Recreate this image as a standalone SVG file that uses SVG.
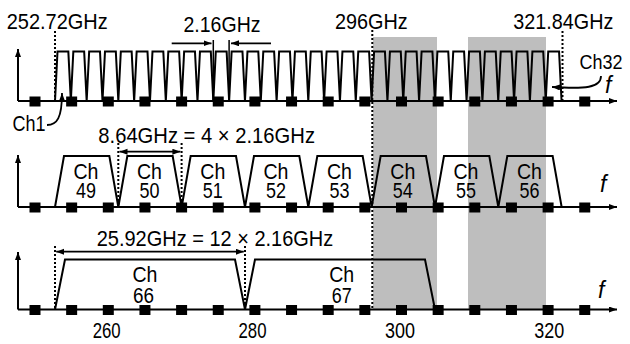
<svg xmlns="http://www.w3.org/2000/svg" xmlns:xlink="http://www.w3.org/1999/xlink" width="630" height="344" viewBox="0 0 630 344">
<style>
text{font-family:"Liberation Sans",Arial,sans-serif;font-size:22px;fill:#000}
.it{font-style:italic;font-size:23px}
.lb{font-size:21.5px}
.ln{fill:none;stroke:#000;stroke-width:2}
.ax{fill:none;stroke:#000;stroke-width:2;marker-end:url(#ah)}
.dot{fill:none;stroke:#000;stroke-width:2;stroke-dasharray:2,2}
.dim{fill:none;stroke:#000;stroke-width:1.8;marker-start:url(#ah);marker-end:url(#ah)}
.one{fill:none;stroke:#000;stroke-width:1.8;marker-end:url(#ah)}
.band{fill:#bebebe}
</style>
<defs>
<marker id="ah" markerUnits="userSpaceOnUse" markerWidth="10" markerHeight="8" refX="8" refY="3" orient="auto-start-reverse">
<path d="M0,0 L8,3 L0,6 z" fill="#000"/>
</marker>
<rect id="sq" x="-5.5" y="-4.5" width="11" height="10" fill="#000"/>
</defs>

<g id="bands">
<rect class="band" x="373" y="37" width="64" height="272"/>
<rect class="band" x="468" y="37" width="78" height="272"/>
</g>

<g id="row1">
<path class="ax" d="M18,101 H617"/>
<path class="ax" d="M18,101 V49"/>
<path class="ln" d="M55,101 l2.5,-49.5 h10.83 l2.5,49.5 l2.5,-49.5 h10.83 l2.5,49.5 l2.5,-49.5 h10.83 l2.5,49.5 l2.5,-49.5 h10.83 l2.5,49.5 l2.5,-49.5 h10.83 l2.5,49.5 l2.5,-49.5 h10.83 l2.5,49.5 l2.5,-49.5 h10.83 l2.5,49.5 l2.5,-49.5 h10.83 l2.5,49.5 l2.5,-49.5 h10.83 l2.5,49.5 l2.5,-49.5 h10.83 l2.5,49.5 l2.5,-49.5 h10.83 l2.5,49.5 l2.5,-49.5 h10.83 l2.5,49.5 l2.5,-49.5 h10.83 l2.5,49.5 l2.5,-49.5 h10.83 l2.5,49.5 l2.5,-49.5 h10.83 l2.5,49.5 l2.5,-49.5 h10.83 l2.5,49.5 l2.5,-49.5 h10.83 l2.5,49.5 l2.5,-49.5 h10.83 l2.5,49.5 l2.5,-49.5 h10.83 l2.5,49.5 l2.5,-49.5 h10.83 l2.5,49.5 l2.5,-49.5 h10.83 l2.5,49.5 l2.5,-49.5 h10.83 l2.5,49.5 l2.5,-49.5 h10.83 l2.5,49.5 l2.5,-49.5 h10.83 l2.5,49.5 l2.5,-49.5 h10.83 l2.5,49.5 l2.5,-49.5 h10.83 l2.5,49.5 l2.5,-49.5 h10.83 l2.5,49.5 l2.5,-49.5 h10.83 l2.5,49.5 l2.5,-49.5 h10.83 l2.5,49.5 l2.5,-49.5 h10.83 l2.5,49.5 l2.5,-49.5 h10.83 l2.5,49.5 l2.5,-49.5 h10.83 l2.5,49.5"/>
<g id="ticks1">
<use xlink:href="#sq" x="35" y="101"/><use xlink:href="#sq" x="71.65" y="101"/><use xlink:href="#sq" x="108.3" y="101"/><use xlink:href="#sq" x="144.95" y="101"/><use xlink:href="#sq" x="181.6" y="101"/><use xlink:href="#sq" x="218.25" y="101"/><use xlink:href="#sq" x="254.9" y="101"/><use xlink:href="#sq" x="291.55" y="101"/><use xlink:href="#sq" x="328.2" y="101"/><use xlink:href="#sq" x="364.85" y="101"/><use xlink:href="#sq" x="401.5" y="101"/><use xlink:href="#sq" x="438.15" y="101"/><use xlink:href="#sq" x="474.8" y="101"/><use xlink:href="#sq" x="511.45" y="101"/><use xlink:href="#sq" x="548.1" y="101"/><use xlink:href="#sq" x="584.75" y="101"/>
</g>
<text x="6.7" y="28.5" textLength="101" lengthAdjust="spacingAndGlyphs">252.72GHz</text>
<text x="183.5" y="32" textLength="77" lengthAdjust="spacingAndGlyphs">2.16GHz</text>
<text x="335" y="28.5" textLength="72.7" lengthAdjust="spacingAndGlyphs">296GHz</text>
<text x="513.3" y="28.5" textLength="100" lengthAdjust="spacingAndGlyphs">321.84GHz</text>
<text x="622.5" y="69" text-anchor="end" style="font-size:21px" textLength="43" lengthAdjust="spacingAndGlyphs">Ch32</text>
<text x="12.5" y="130.5" textLength="33" lengthAdjust="spacingAndGlyphs">Ch1</text>
<text class="it" x="605" y="93.3">f</text>
</g>

<g id="row2">
<path class="ax" d="M18,207 H617"/>
<path class="ax" d="M18,207 V155"/>
<path class="ln" d="M55,207 l9,-51 h45.33 l9,51 l9,-51 h45.33 l9,51 l9,-51 h45.33 l9,51 l9,-51 h45.33 l9,51 l9,-51 h45.33 l9,51 l9,-51 h45.33 l9,51 l9,-51 h45.33 l9,51 l9,-51 h45.33 l9,51"/>
<g id="ticks2">
<use xlink:href="#sq" x="35" y="207"/><use xlink:href="#sq" x="71.65" y="207"/><use xlink:href="#sq" x="108.3" y="207"/><use xlink:href="#sq" x="144.95" y="207"/><use xlink:href="#sq" x="181.6" y="207"/><use xlink:href="#sq" x="218.25" y="207"/><use xlink:href="#sq" x="254.9" y="207"/><use xlink:href="#sq" x="291.55" y="207"/><use xlink:href="#sq" x="328.2" y="207"/><use xlink:href="#sq" x="364.85" y="207"/><use xlink:href="#sq" x="401.5" y="207"/><use xlink:href="#sq" x="438.15" y="207"/><use xlink:href="#sq" x="474.8" y="207"/><use xlink:href="#sq" x="511.45" y="207"/><use xlink:href="#sq" x="548.1" y="207"/><use xlink:href="#sq" x="584.75" y="207"/>
</g>
<text x="98.3" y="143.3" textLength="216.7" lengthAdjust="spacingAndGlyphs">8.64GHz = 4 × 2.16GHz</text>
<g text-anchor="middle" class="lb">
<text class="lb" x="86" y="179" textLength="25" lengthAdjust="spacingAndGlyphs">Ch</text><text class="lb" x="86" y="198.3" textLength="20" lengthAdjust="spacingAndGlyphs">49</text>
<text class="lb" x="149.5" y="179" textLength="25" lengthAdjust="spacingAndGlyphs">Ch</text><text class="lb" x="149.5" y="198.3" textLength="20" lengthAdjust="spacingAndGlyphs">50</text>
<text class="lb" x="212.8" y="179" textLength="25" lengthAdjust="spacingAndGlyphs">Ch</text><text class="lb" x="212.8" y="198.3" textLength="20" lengthAdjust="spacingAndGlyphs">51</text>
<text class="lb" x="276" y="179" textLength="25" lengthAdjust="spacingAndGlyphs">Ch</text><text class="lb" x="276" y="198.3" textLength="20" lengthAdjust="spacingAndGlyphs">52</text>
<text class="lb" x="339.5" y="179" textLength="25" lengthAdjust="spacingAndGlyphs">Ch</text><text class="lb" x="339.5" y="198.3" textLength="20" lengthAdjust="spacingAndGlyphs">53</text>
<text class="lb" x="402.8" y="179" textLength="25" lengthAdjust="spacingAndGlyphs">Ch</text><text class="lb" x="402.8" y="198.3" textLength="20" lengthAdjust="spacingAndGlyphs">54</text>
<text class="lb" x="466" y="179" textLength="25" lengthAdjust="spacingAndGlyphs">Ch</text><text class="lb" x="466" y="198.3" textLength="20" lengthAdjust="spacingAndGlyphs">55</text>
<text class="lb" x="529.5" y="179" textLength="25" lengthAdjust="spacingAndGlyphs">Ch</text><text class="lb" x="529.5" y="198.3" textLength="20" lengthAdjust="spacingAndGlyphs">56</text>
</g>
<text class="it" x="600" y="191.7">f</text>
</g>

<g id="row3">
<path class="ax" d="M18,309.5 H617"/>
<path class="ax" d="M18,309.5 V252"/>
<path class="ln" d="M55,309.5 l10,-50 h170 l10,50 l10,-50 h170 l10,50"/>
<g id="ticks3">
<use xlink:href="#sq" x="35" y="309.5"/><use xlink:href="#sq" x="71.65" y="309.5"/><use xlink:href="#sq" x="108.3" y="309.5"/><use xlink:href="#sq" x="144.95" y="309.5"/><use xlink:href="#sq" x="181.6" y="309.5"/><use xlink:href="#sq" x="218.25" y="309.5"/><use xlink:href="#sq" x="254.9" y="309.5"/><use xlink:href="#sq" x="291.55" y="309.5"/><use xlink:href="#sq" x="328.2" y="309.5"/><use xlink:href="#sq" x="364.85" y="309.5"/><use xlink:href="#sq" x="401.5" y="309.5"/><use xlink:href="#sq" x="438.15" y="309.5"/><use xlink:href="#sq" x="474.8" y="309.5"/><use xlink:href="#sq" x="511.45" y="309.5"/><use xlink:href="#sq" x="548.1" y="309.5"/><use xlink:href="#sq" x="584.75" y="309.5"/>
</g>
<text x="96.7" y="245.5" textLength="236.6" lengthAdjust="spacingAndGlyphs">25.92GHz = 12 × 2.16GHz</text>
<g text-anchor="middle">
<text class="lb" x="145" y="282" textLength="25" lengthAdjust="spacingAndGlyphs">Ch</text><text class="lb" x="143.5" y="302.8" textLength="21" lengthAdjust="spacingAndGlyphs">66</text>
<text class="lb" x="341.7" y="282" textLength="25" lengthAdjust="spacingAndGlyphs">Ch</text><text class="lb" x="341.7" y="302.8" textLength="20" lengthAdjust="spacingAndGlyphs">67</text>
<text x="106.7" y="338.3" textLength="28" lengthAdjust="spacingAndGlyphs">260</text>
<text x="252.5" y="338.3" textLength="28" lengthAdjust="spacingAndGlyphs">280</text>
<text x="400" y="338.3" textLength="30" lengthAdjust="spacingAndGlyphs">300</text>
<text x="549.2" y="338.3" textLength="30" lengthAdjust="spacingAndGlyphs">320</text>
</g>
<text class="it" x="598" y="298.3">f</text>
</g>

<g id="connectors">
<path class="dot" d="M55,31 V101"/>
<path class="dot" d="M372.3,30 V309"/>
<path class="dot" d="M562.5,31 V101"/>
<path class="one" d="M171.7,43.3 H211.5"/>
<path class="one" d="M271,43.3 H231"/>
<path class="ln" style="stroke-width:1.5" d="M213.3,40 V101 M229.1,40 V101"/>
<path class="one" d="M47,125 C57,125 62,118 62,93"/>
<path class="one" d="M601,76 C601,88 585,89 552,87"/>
<path class="dot" d="M118.3,143 V207"/>
<path class="dot" d="M181.6,143 V207"/>
<path class="dim" d="M119.5,151.7 H180.4"/>
<path class="dot" d="M55,246 V309"/>
<path class="dot" d="M245,246 V309"/>
<path class="dim" d="M56.2,251.7 H243.8"/>
</g>
</svg>
